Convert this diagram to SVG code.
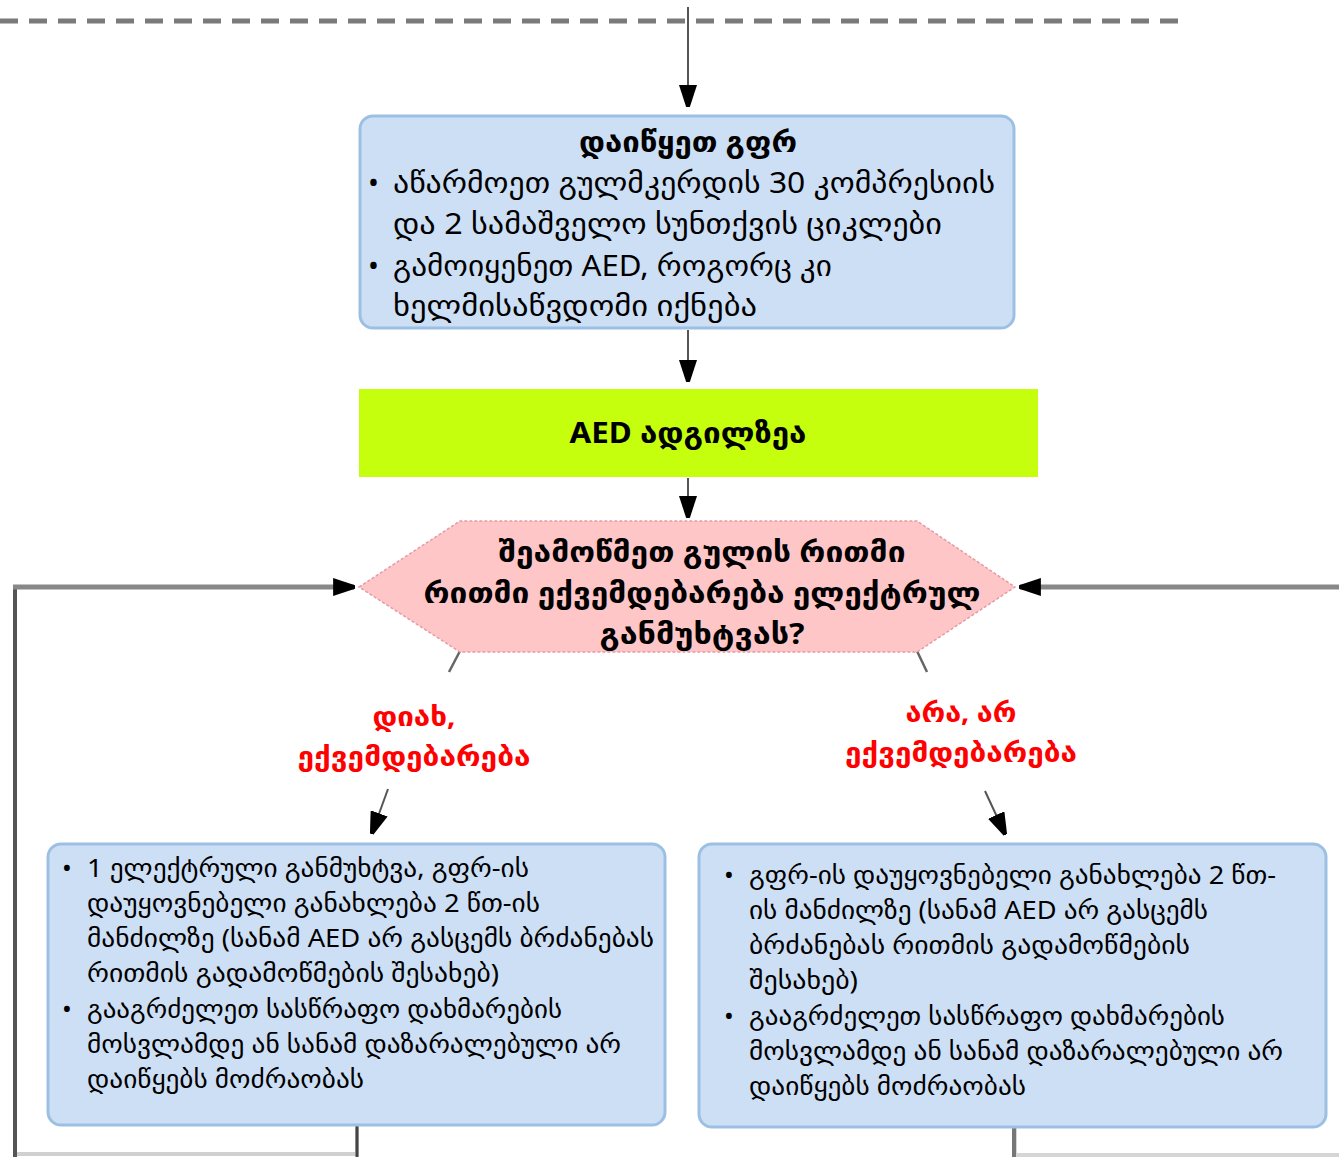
<svg xmlns="http://www.w3.org/2000/svg" width="1339" height="1157" viewBox="0 0 1339 1157">
<defs>
<style>
.t{font-family:"Noto Sans","DejaVu Sans",sans-serif;fill:#000}
.b{font-weight:bold}
.box{fill:#cddff5;stroke:#9cc0e3;stroke-width:3}
.lab{font-family:"Noto Sans","DejaVu Sans",sans-serif;font-weight:bold;fill:#ff0000;font-size:27px}
</style>
<marker id="ah" viewBox="0 0 10 10" refX="9.5" refY="5" markerWidth="22" markerHeight="18" markerUnits="userSpaceOnUse" orient="auto" preserveAspectRatio="none">
<path d="M0,0 L10,4 L10,6 L0,10 z" fill="#000"/>
</marker>
</defs>
<rect width="1339" height="1157" fill="#fff"/>
<g id="connectors">
<line x1="0" y1="21" x2="1182" y2="21" stroke="#7a7a7a" stroke-width="5" stroke-dasharray="18,11"/>
<line x1="688" y1="7" x2="688" y2="106" stroke="#555" stroke-width="2" marker-end="url(#ah)"/>
<line x1="688" y1="330" x2="688" y2="381" stroke="#555" stroke-width="2" marker-end="url(#ah)"/>
<line x1="688" y1="478" x2="688" y2="517" stroke="#555" stroke-width="2" marker-end="url(#ah)"/>
<line x1="460" y1="651" x2="449" y2="672" stroke="#666" stroke-width="2.5"/>
<line x1="917" y1="651" x2="927" y2="672" stroke="#666" stroke-width="2.5"/>
<line x1="388" y1="789" x2="372" y2="833" stroke="#555" stroke-width="2" marker-end="url(#ah)"/>
<line x1="985" y1="791" x2="1005" y2="834" stroke="#555" stroke-width="2" marker-end="url(#ah)"/>
<polyline points="357,1126 357,1154 15,1154" fill="none" stroke="#d0d0d0" stroke-width="4"/>
<line x1="357" y1="1126" x2="357" y2="1157" stroke="#444" stroke-width="3"/>
<line x1="15" y1="1157" x2="15" y2="587" stroke="#555" stroke-width="4"/>
<line x1="13" y1="587" x2="354" y2="587" stroke="#888" stroke-width="5" marker-end="url(#ah)"/>
<polyline points="1015,1128 1015,1155 1339,1155" fill="none" stroke="#d5d5d5" stroke-width="4"/>
<line x1="1014" y1="1128" x2="1014" y2="1157" stroke="#777" stroke-width="4"/>
<line x1="1339" y1="587" x2="1020" y2="587" stroke="#888" stroke-width="5" marker-end="url(#ah)"/>
</g>
<g id="n1">
<rect class="box" x="360" y="116" width="654" height="212" rx="13"/>
<text class="t b" x="688" y="152" font-size="29" text-anchor="middle" textLength="218" lengthAdjust="spacingAndGlyphs">დაიწყეთ გფრ</text>
<g class="t" font-size="29">
<text x="368" y="193">•</text>
<text x="393" y="193" textLength="602" lengthAdjust="spacingAndGlyphs">აწარმოეთ გულმკერდის 30 კომპრესიის</text>
<text x="393" y="234" textLength="549" lengthAdjust="spacingAndGlyphs">და 2 სამაშველო სუნთქვის ციკლები</text>
<text x="368" y="276">•</text>
<text x="393" y="276" textLength="439" lengthAdjust="spacingAndGlyphs">გამოიყენეთ AED, როგორც კი</text>
<text x="393" y="316" textLength="364" lengthAdjust="spacingAndGlyphs">ხელმისაწვდომი იქნება</text>
</g>
</g>
<g id="n2">
<rect x="359" y="389" width="679" height="88" fill="#c5ff0e"/>
<text class="t b" x="688" y="443" font-size="29" text-anchor="middle" textLength="237" lengthAdjust="spacingAndGlyphs">AED ადგილზეა</text>
</g>
<g id="n3">
<polygon points="359,587 460,521 917,521 1015,587 917,652 460,652" fill="#ffc6c8" stroke="#e59aa4" stroke-width="1.5" stroke-dasharray="3,2"/>
<g class="t b" font-size="29" text-anchor="middle">
<text x="702" y="562" textLength="407" lengthAdjust="spacingAndGlyphs">შეამოწმეთ გულის რითმი</text>
<text x="702" y="603" textLength="557" lengthAdjust="spacingAndGlyphs">რითმი ექვემდებარება ელექტრულ</text>
<text x="702" y="644" textLength="205" lengthAdjust="spacingAndGlyphs">განმუხტვას?</text>
</g>
</g>
<g id="lab1" class="lab" text-anchor="middle">
<text x="414" y="726" textLength="83" lengthAdjust="spacingAndGlyphs">დიახ,</text>
<text x="414" y="766" textLength="233" lengthAdjust="spacingAndGlyphs">ექვემდებარება</text>
</g>
<g id="lab2" class="lab" text-anchor="middle">
<text x="961" y="722" textLength="111" lengthAdjust="spacingAndGlyphs">არა, არ</text>
<text x="961" y="762" textLength="232" lengthAdjust="spacingAndGlyphs">ექვემდებარება</text>
</g>
<g id="n4">
<rect class="box" x="48" y="844" width="617" height="281" rx="13"/>
<g class="t" font-size="26">
<text x="62" y="877">•</text>
<text x="87" y="877" textLength="442" lengthAdjust="spacingAndGlyphs">1 ელექტრული განმუხტვა, გფრ-ის</text>
<text x="87" y="912" textLength="453" lengthAdjust="spacingAndGlyphs">დაუყოვნებელი განახლება 2 წთ-ის</text>
<text x="87" y="947" textLength="567" lengthAdjust="spacingAndGlyphs">მანძილზე (სანამ AED არ გასცემს ბრძანებას</text>
<text x="87" y="982" textLength="412" lengthAdjust="spacingAndGlyphs">რითმის გადამოწმების შესახებ)</text>
<text x="62" y="1018">•</text>
<text x="87" y="1018" textLength="475" lengthAdjust="spacingAndGlyphs">გააგრძელეთ სასწრაფო დახმარების</text>
<text x="87" y="1053" textLength="534" lengthAdjust="spacingAndGlyphs">მოსვლამდე ან სანამ დაზარალებული არ</text>
<text x="87" y="1088" textLength="277" lengthAdjust="spacingAndGlyphs">დაიწყებს მოძრაობას</text>
</g>
</g>
<g id="n5">
<rect class="box" x="699" y="844" width="627" height="283" rx="13"/>
<g class="t" font-size="26">
<text x="724" y="884">•</text>
<text x="749" y="884" textLength="527" lengthAdjust="spacingAndGlyphs">გფრ-ის დაუყოვნებელი განახლება 2 წთ-</text>
<text x="749" y="919" textLength="459" lengthAdjust="spacingAndGlyphs">ის მანძილზე (სანამ AED არ გასცემს</text>
<text x="749" y="954" textLength="441" lengthAdjust="spacingAndGlyphs">ბრძანებას რითმის გადამოწმების</text>
<text x="749" y="989" textLength="109" lengthAdjust="spacingAndGlyphs">შესახებ)</text>
<text x="724" y="1025">•</text>
<text x="749" y="1025" textLength="476" lengthAdjust="spacingAndGlyphs">გააგრძელეთ სასწრაფო დახმარების</text>
<text x="749" y="1060" textLength="534" lengthAdjust="spacingAndGlyphs">მოსვლამდე ან სანამ დაზარალებული არ</text>
<text x="749" y="1095" textLength="277" lengthAdjust="spacingAndGlyphs">დაიწყებს მოძრაობას</text>
</g>
</g>
</svg>
